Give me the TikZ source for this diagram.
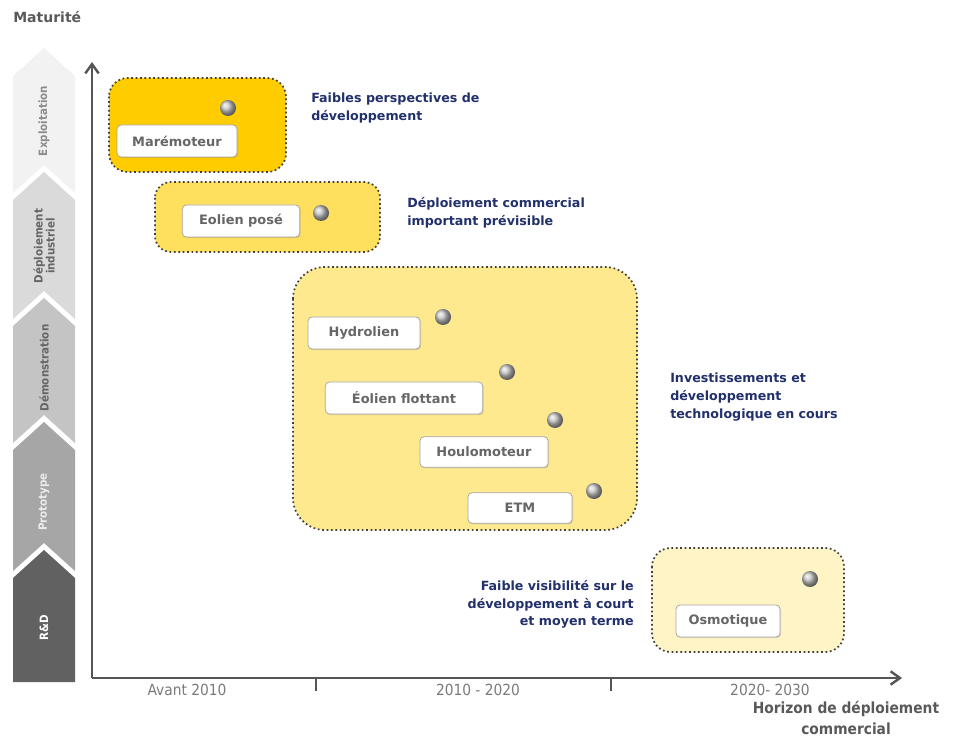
\documentclass[tikz,border=0pt]{standalone}
\usepackage{fontspec}
\setmainfont{DejaVu Sans}
\newfontfamily\condfont{DejaVu Sans Condensed}
\usetikzlibrary{arrows.meta,shadows}
\definecolor{navy}{HTML}{22306B}
\definecolor{axisgray}{HTML}{555555}
\definecolor{ticktext}{HTML}{7A7A7A}
\definecolor{lbltext}{HTML}{666666}
\definecolor{ydark}{HTML}{FFCC00}
\definecolor{ymid}{HTML}{FFDF5E}
\definecolor{ylight}{HTML}{FFE98E}
\definecolor{ypale}{HTML}{FFF4C6}
\definecolor{segA}{HTML}{F2F2F2}
\definecolor{segB}{HTML}{DADADA}
\definecolor{segC}{HTML}{C4C4C4}
\definecolor{segD}{HTML}{A6A6A6}
\definecolor{segE}{HTML}{616161}
\tikzset{
  region/.style={draw=black!75, line width=1.3pt, dotted, rounded corners=#1},
  techbox/.style={draw=black!35, fill=white, rounded corners=3pt, line width=0.6pt,
     text=lbltext, font=\fontsize{9.7}{12}\selectfont\bfseries, inner sep=0pt,
     drop shadow={shadow xshift=0.8pt, shadow yshift=-0.8pt, opacity=0.25}},
  marker/.style={circle, inner sep=0pt, minimum size=12pt, shading=ball, ball color=black!22},
  note/.style={text=navy, font=\fontsize{9.5}{13.3}\selectfont\bfseries, align=left, inner sep=0pt},
  segtext/.style={rotate=90, font=\condfont\fontsize{8.6}{9}\selectfont\bfseries, align=center, inner sep=0pt},
  ticklbl/.style={text=ticktext, font=\condfont\fontsize{11.5}{13}\selectfont, inner sep=0pt},
  axisline/.style={draw=axisgray, line width=1.8pt, -{Straight Barb[length=7pt,width=10pt,line width=1.8pt]}}
}
\begin{document}
\begin{tikzpicture}[x=0.75pt,y=-0.75pt]
\useasboundingbox (0,0) rectangle (959,737);
% title
\node[anchor=west, text=black!65, font=\fontsize{10.5}{12}\selectfont\bfseries, inner sep=0pt] (mat) at (13,17) {Maturité};
% chevrons
\fill[segA] (13,76) -- (44,48) -- (75,76) -- (75,193) -- (44,165) -- (13,193) -- cycle;
\fill[segB] (13,200) -- (44,172) -- (75,200) -- (75,319) -- (44,291) -- (13,319) -- cycle;
\fill[segC] (13,326) -- (44,298) -- (75,326) -- (75,443) -- (44,415) -- (13,443) -- cycle;
\fill[segD] (13,450) -- (44,422) -- (75,450) -- (75,571) -- (44,543) -- (13,571) -- cycle;
\fill[segE] (13,578) -- (44,550) -- (75,578) -- (75,682) -- (13,682) -- cycle;
\node[segtext, text=black!45] (s1) at (44,121) {Exploitation};
\node[segtext, text=black!60] (s2) at (44,246) {Déploiement\\industriel};
\node[segtext, text=black!60] (s3) at (44,368) {Démonstration};
\node[segtext, text=white!92!black] (s4) at (44,502) {Prototype};
\node[segtext, text=white] (s5) at (44,628) {R\&D};
% axes
\coordinate (origin) at (92,678);
\coordinate (ytop) at (92,62);
\coordinate (xend) at (902,678);
\draw[axisline] (origin) -- (ytop);
\draw[axisline] (origin) -- (xend);
\coordinate (t1) at (316,678);
\coordinate (t2) at (611,678);
\draw[draw=axisgray, line width=1.8pt] (t1) -- ++(0,13);
\draw[draw=axisgray, line width=1.8pt] (t2) -- ++(0,13);
\node[ticklbl] (x1) at (187,690) {Avant 2010};
\node[ticklbl] (x2) at (478,690) {2010 - 2020};
\node[ticklbl] (x3) at (770,690) {2020- 2030};
\node[text=black!65, font=\condfont\fontsize{11.5}{15.5}\selectfont\bfseries, align=center, inner sep=0pt] (xt) at (846,718) {Horizon de déploiement\\commercial};
% regions
\fill[ydark, rounded corners=14pt] (109,78) rectangle (286,172);
\draw[region=14pt] (109,78) rectangle (286,172);
\fill[ymid, rounded corners=12pt] (155,182) rectangle (380,252);
\draw[region=12pt] (155,182) rectangle (380,252);
\fill[ylight, rounded corners=24pt] (293,267) rectangle (637,530);
\draw[region=24pt] (293,267) rectangle (637,530);
\fill[ypale, rounded corners=14pt] (652,548) rectangle (844,652);
\draw[region=14pt] (652,548) rectangle (844,652);
% technology labels
\node[techbox, minimum width=90pt, minimum height=24pt] (mare) at (177,141) {Marémoteur};
\node[techbox, minimum width=88pt, minimum height=24pt] (eolp) at (241,221) {Eolien posé};
\node[techbox, minimum width=84pt, minimum height=24pt] (hydro) at (364,333) {Hydrolien};
\node[techbox, minimum width=118pt, minimum height=24pt] (eolf) at (404,398) {Éolien flottant};
\node[techbox, minimum width=96pt, minimum height=23pt] (houl) at (484,452) {Houlomoteur};
\node[techbox, minimum width=78pt, minimum height=23pt] (etm) at (520,508) {ETM};
\node[techbox, minimum width=78pt, minimum height=24pt] (osmo) at (728,621) {Osmotique};
% markers
\node[marker] (m1) at (228,108) {};
\node[marker] (m2) at (321,213) {};
\node[marker] (m3) at (443,317) {};
\node[marker] (m4) at (507,372) {};
\node[marker] (m5) at (555,420) {};
\node[marker] (m6) at (594,491) {};
\node[marker] (m7) at (810,579) {};
% notes
\node[note, anchor=north west] (n1) at (311,93) {Faibles perspectives de\\développement};
\node[note, anchor=north west] (n2) at (407,197) {Déploiement commercial\\important prévisible};
\node[note, anchor=north west] (n3) at (670,373) {Investissements et\\développement\\technologique en cours};
\node[note, anchor=north east, align=right] (n4) at (634,580) {Faible visibilité sur le\\développement à court\\et moyen terme};
\end{tikzpicture}
\end{document}
